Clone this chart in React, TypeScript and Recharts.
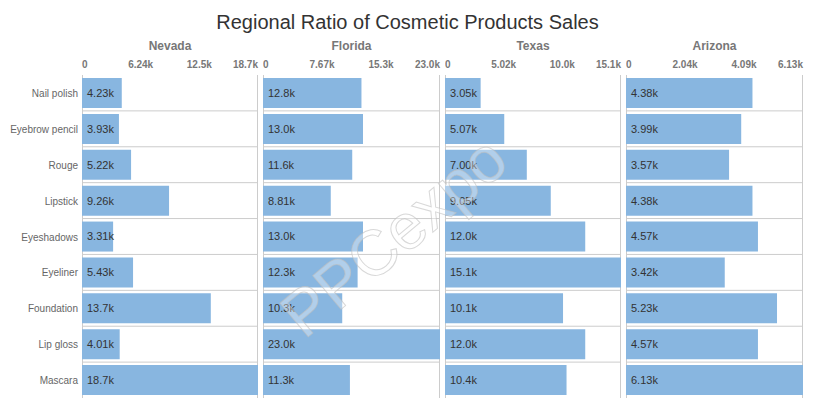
import React from 'react';
import { BarChart, Bar, XAxis, YAxis, CartesianGrid, LabelList } from 'recharts';

const categories = ['Nail polish', 'Eyebrow pencil', 'Rouge', 'Lipstick', 'Eyeshadows', 'Eyeliner', 'Foundation', 'Lip gloss', 'Mascara'];
const regions = ['Nevada', 'Florida', 'Texas', 'Arizona'];

const nevada = [4230, 3930, 5220, 9260, 3310, 5430, 13700, 4010, 18720];
const florida = [12800, 13000, 11600, 8810, 13000, 12300, 10300, 23010, 11300];
const texas = [3050, 5070, 7000, 9050, 12000, 15060, 10100, 12000, 10400];
const arizona = [4380, 3990, 3570, 4380, 4570, 3420, 5230, 4570, 6130];

const seriesList = [nevada, florida, texas, arizona];

const FONT = '"Liberation Sans", Arial, sans-serif';
const BAR_COLOR = '#88b6e0';
const GRID = '#cccccc';

const fmt = (v: number) => (v === 0 ? '0' : (v / 1000).toPrecision(3) + 'k');

// panel plot-area left edges and widths
const panels = [
  { left: 0, yWidth: 82, plotW: 176 },
  { left: 263, yWidth: 0, plotW: 177 },
  { left: 445, yWidth: 0, plotW: 176 },
  { left: 626, yWidth: 0, plotW: 177 },
];

const TopTick = (props: any) => {
  const { x, y, payload, index } = props;
  const anchor = index === 0 ? 'start' : index === 3 ? 'end' : 'middle';
  return (
    <text x={x} y={y + 1} textAnchor={anchor} fontSize={10} fontWeight="bold" fill="#777" fontFamily={FONT}>
      {fmt(payload.value)}
    </text>
  );
};

const CatTick = (props: any) => {
  const { x, y, payload } = props;
  return (
    <text x={x + 4} y={y} dy={4} textAnchor="end" fontSize={10} fill="#666" fontFamily={FONT}>
      {payload.value}
    </text>
  );
};

function Panel({ idx }: { idx: number }) {
  const p = panels[idx];
  const values = seriesList[idx];
  const data = categories.map((c, i) => ({ name: c, value: values[i] }));
  const max = Math.max(...values);
  const ticks = [0, max / 3, (2 * max) / 3, max];
  const width = p.yWidth + p.plotW + 4;
  return (
    <div style={{ position: 'absolute', left: p.left, top: 40 }}>
      <BarChart
        width={width}
        height={363}
        data={data}
        layout="vertical"
        margin={{ top: 10, right: 4, bottom: 5, left: 0 }}
        barSize={30}
      >
        <CartesianGrid
          stroke={GRID}
          horizontalCoordinatesGenerator={({ offset }: any) =>
            [1, 2, 3, 4, 5, 6, 7, 8].map((i) => offset.top + (i * offset.height) / 9)
          }
          verticalCoordinatesGenerator={({ offset }: any) => [offset.left + 0.5, offset.left + offset.width - 0.5]}
        />
        <XAxis
          type="number"
          orientation="top"
          domain={[0, max]}
          ticks={ticks}
          tick={<TopTick />}
          axisLine={false}
          tickLine={false}
          height={25}
          interval={0}
        />
        <YAxis
          type="category"
          dataKey="name"
          width={p.yWidth}
          hide={idx !== 0}
          axisLine={false}
          tickLine={false}
          tick={<CatTick />}
          interval={0}
        />
        <Bar dataKey="value" fill={BAR_COLOR} isAnimationActive={false}>
          <LabelList
            dataKey="value"
            position="insideLeft"
            offset={5}
            formatter={(v: any) => fmt(Number(v))}
            style={{ fontSize: 11, fill: '#333', fontFamily: FONT }}
          />
        </Bar>
      </BarChart>
    </div>
  );
}

export default function App() {
  return (
    <div style={{ position: 'absolute', left: 0, top: 0, width: 815, height: 413, background: '#fff', fontFamily: FONT }}>
      <div style={{ position: 'absolute', left: 0, top: 10, width: 815, textAlign: 'center', fontSize: 20, color: '#333', lineHeight: '24px' }}>
        Regional Ratio of Cosmetic Products Sales
      </div>
      {regions.map((r, i) => {
        const p = panels[i];
        return (
          <div
            key={r}
            style={{
              position: 'absolute',
              left: p.left + p.yWidth,
              width: p.plotW,
              top: 39,
              textAlign: 'center',
              fontSize: 12,
              fontWeight: 'bold',
              color: '#777',
              lineHeight: '14px',
            }}
          >
            {r}
          </div>
        );
      })}
      {regions.map((r, i) => (
        <Panel key={r} idx={i} />
      ))}
      <svg width={815} height={413} style={{ position: 'absolute', left: 0, top: 0, pointerEvents: 'none' }}>
        <text
          x={395}
          y={258}
          textAnchor="middle"
          fontSize={64}
          fontFamily={FONT}
          fill="rgba(255,255,255,0.35)"
          stroke="rgba(190,190,190,0.6)"
          strokeWidth={1}
          transform="rotate(-40 395 238)"
        >
          PPCexpo
        </text>
      </svg>
    </div>
  );
}
